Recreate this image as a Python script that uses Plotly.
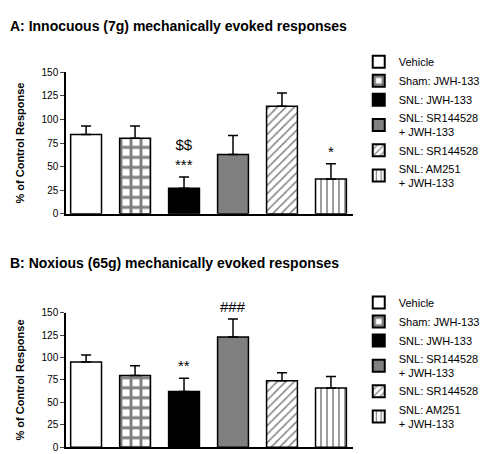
import plotly.graph_objects as go
from plotly.subplots import make_subplots

groups = ["Vehicle", "Sham: JWH-133", "SNL: JWH-133", "SNL: SR144528<br>+ JWH-133", "SNL: SR144528", "SNL: AM251<br>+ JWH-133"]
vals_a = [84, 80, 27, 63, 114, 37]
err_a = [9, 13, 12, 20, 14, 16]
vals_b = [95, 80, 62, 123, 74, 66]
err_b = [8, 11, 15, 20, 9, 13]
sig_a = ["", "", "$$<br>***", "", "", "*"]
sig_b = ["", "", "**", "###", "", ""]
yticks = [0, 25, 50, 75, 100, 125, 150]

colors = ["white", "white", "black", "#808080", "white", "white"]
patterns = ["", "+", "", "", "/", "|"]

fig = make_subplots(rows=2, cols=1)
for r, (vals, errs, sigs, leg) in enumerate([(vals_a, err_a, sig_a, "legend"), (vals_b, err_b, sig_b, "legend2")], start=1):
    for i in range(6):
        fig.add_trace(go.Bar(
            x=[i], y=[vals[i]], name=groups[i], width=0.63, legend=leg,
            marker=dict(color=colors[i], line=dict(color="black", width=1.5),
                        pattern=dict(shape=patterns[i], fgcolor="black", bgcolor=colors[i],
                                     size=10 if patterns[i] == "+" else 6,
                                     solidity=0.5 if patterns[i] == "+" else 0.25)),
            error_y=dict(type="data", array=[errs[i]], arrayminus=[0], color="black", thickness=1.5, width=5),
        ), row=r, col=1)
        if sigs[i]:
            fig.add_annotation(x=i, y=vals[i] + errs[i] + 2, text=sigs[i], showarrow=False, yanchor="bottom",
                               font=dict(size=15, color="black"), row=r, col=1)
    fig.update_xaxes(range=[-0.41, 5.45], showticklabels=False, ticks="", showline=True, linecolor="black", linewidth=1.5, row=r, col=1)
    fig.update_yaxes(range=[0, 150], tickvals=yticks, ticks="outside", ticklen=4, showline=True, linecolor="black", linewidth=1.5,
                     showgrid=False, zeroline=False, title=dict(text="<b>% of Control Response</b>", font=dict(size=11)),
                     tickfont=dict(size=10, color="black"), row=r, col=1)

fig.update_yaxes(domain=[0.548, 0.868], row=1, col=1)
fig.update_yaxes(domain=[0.02, 0.324], row=2, col=1)

legstyle = dict(x=1.02, xanchor="left", yanchor="top", font=dict(size=11, color="black"), tracegroupgap=0, itemsizing="constant")
fig.update_layout(
    width=488, height=454, plot_bgcolor="white", paper_bgcolor="white", barmode="overlay",
    margin=dict(l=58, r=143, t=0, b=0),
    font=dict(family="Liberation Sans, Arial", color="black"),
    legend=dict(y=0.925, **legstyle),
    legend2=dict(y=0.38, **legstyle),
    annotations=list(fig.layout.annotations) + [
        dict(text="<b>A: Innocuous (7g) mechanically evoked responses</b>", x=0, y=0.995, xref="paper", yref="paper",
             xanchor="left", yanchor="top", showarrow=False, font=dict(size=14), xshift=-58),
        dict(text="<b>B: Noxious (65g) mechanically evoked responses</b>", x=0, y=0.415, xref="paper", yref="paper",
             xanchor="left", yanchor="bottom", showarrow=False, font=dict(size=14), xshift=-58),
    ],
)
fig.write_html("out.html")
